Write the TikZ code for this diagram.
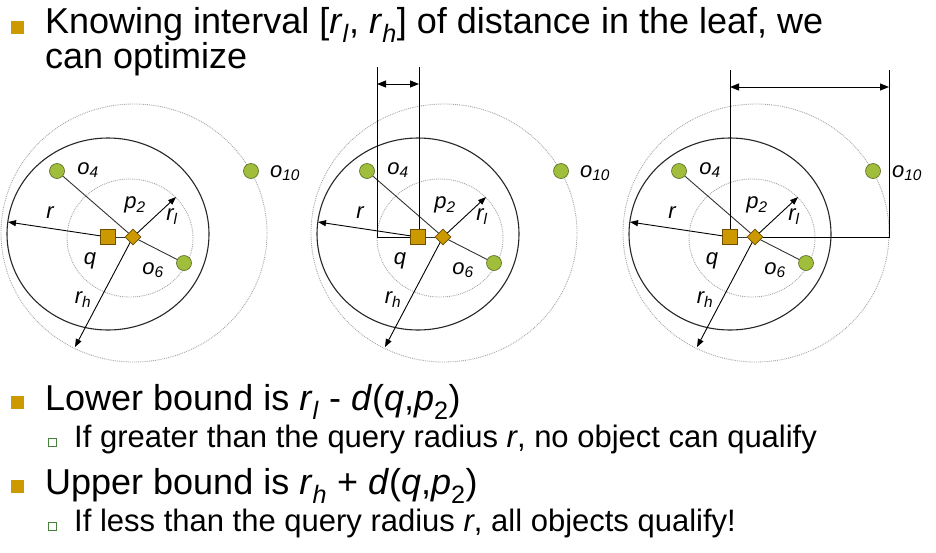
\documentclass[tikz,border=0pt]{standalone}
\usepackage{fontspec}
\setmainfont{Liberation Sans}
\usetikzlibrary{arrows.meta,shapes.geometric}
\definecolor{gold}{RGB}{204,153,0}
\definecolor{golddark}{RGB}{110,80,0}
\definecolor{leaf}{RGB}{160,190,60}
\definecolor{leafdark}{RGB}{85,105,30}
\definecolor{subgreen}{RGB}{70,130,60}
\begin{document}
\begin{tikzpicture}[x=1pt,y=-1pt,
  qbox/.style={draw=golddark, fill=gold, minimum size=15pt, inner sep=0pt, line width=0.6pt},
  pdia/.style={diamond, draw=golddark, fill=gold, minimum size=16pt, inner sep=0pt, line width=0.6pt},
  obj/.style={circle, draw=leafdark, fill=leaf, minimum size=15pt, inner sep=0pt, line width=0.6pt},
  lbl/.style={font=\fontsize{22}{26}\selectfont\itshape, inner sep=0pt},
  link/.style={line width=0.9pt, black!80},
  ray/.style={line width=0.9pt, -{Triangle[length=8pt,width=6pt]}},
  rcirc/.style={line width=1.1pt, black!85},
  dcirc/.style={line width=0.9pt, gray!70, densely dotted},
  dimline/.style={line width=1pt},
  dimarr/.style={line width=1pt, {Triangle[length=9pt,width=7pt]}-{Triangle[length=9pt,width=7pt]}},
  bigtxt/.style={font=\fontsize{36}{35}\selectfont, inner sep=0pt, anchor=base west},
  smalltxt/.style={font=\fontsize{31}{34}\selectfont, inner sep=0pt, anchor=base west},
  bul/.style={fill=gold, minimum size=13pt, inner sep=0pt},
  subbul/.style={draw=subgreen, fill=white, minimum size=8pt, inner sep=0pt, line width=1pt}
]
\useasboundingbox (0,0) rectangle (936,552);

\foreach \k/\px in {a/108, b/418, c/730} {
  \begin{scope}[shift={(\px,237)}]
    \draw[dcirc] (26,-4) ellipse [x radius=133pt, y radius=129pt];
    \draw[rcirc] (0,-3) ellipse [x radius=101pt, y radius=96pt];
    \draw[dcirc] (22,1) ellipse [x radius=63pt, y radius=59pt];
    \node[qbox] (q\k) at (0,0) {};
    \node[pdia] (p\k) at (25,0) {};
    \node[obj] (oA\k) at (-51,-66) {};
    \node[obj] (oB\k) at (76,26) {};
    \node[obj] (oC\k) at (143,-66) {};
    \coordinate (tr\k) at (-100,-15);
    \coordinate (tl\k) at (68,-40);
    \coordinate (th\k) at (-33,110);
    \draw[link] (oA\k) -- (p\k);
    \draw[link] (p\k) -- (oB\k);
    \draw[link] (q\k) -- (p\k);
    \draw[ray] (q\k) -- (tr\k);
    \draw[ray] (p\k) -- (tl\k);
    \draw[ray] (p\k) -- (th\k);
    \node[lbl] (lo4\k) at (-20,-67) {o\textsubscript{4}};
    \node[lbl] (lo10\k) at (177,-64) {o\textsubscript{10}};
    \node[lbl] (lr\k) at (-58,-24) {r};
    \node[lbl] (lp\k) at (27,-32) {p\textsubscript{2}};
    \node[lbl] (lrl\k) at (64,-20) {r\textsubscript{l}};
    \node[lbl] (lq\k) at (-18,24) {q};
    \node[lbl] (lo6\k) at (45,33) {o\textsubscript{6}};
    \node[lbl] (lrh\k) at (-25,63) {r\textsubscript{h}};
  \end{scope}
}

% panel 2 dimension
\coordinate (bL) at (377,67);
\coordinate (bR) at (419,67);
\coordinate (bLa) at (377,84);
\coordinate (bRa) at (419,84);
\draw[dimline] (bL) |- (qb.west);
\draw[dimline] (bR) -- (bR |- qb.north);
\draw[dimarr] (bLa) -- (bRa);

% panel 3 dimension
\coordinate (cL) at (730,70);
\coordinate (cR) at (889,70);
\coordinate (cLa) at (730,87);
\coordinate (cRa) at (889,87);
\draw[dimline] (cL) -- (cL |- qc.north);
\draw[dimline] (cR) |- (pc.east);
\draw[dimarr] (cLa) -- (cRa);

% text
\node[bul] (b1) at (17.5,27.5) {};
\node[bigtxt] (t1) at (45,33) {Knowing interval [\textit{r}\textsubscript{\textit{l}}, \textit{r}\textsubscript{\textit{h}}] of distance in the leaf, we};
\node[bigtxt] (t2) at (45,68) {can optimize};
\node[bul] (b2) at (17.5,402) {};
\node[bigtxt] (t3) at (45,410) {Lower bound is \textit{r}\textsubscript{\textit{l}} - \textit{d}(\textit{q},\textit{p}\textsubscript{2})};
\node[subbul] (s1) at (52,442) {};
\node[smalltxt] (t4) at (74,447) {If greater than the query radius \textit{r}, no object can qualify};
\node[bul] (b3) at (17.5,486) {};
\node[bigtxt] (t5) at (45,494) {Upper bound is \textit{r}\textsubscript{\textit{h}} + \textit{d}(\textit{q},\textit{p}\textsubscript{2})};
\node[subbul] (s2) at (52,526) {};
\node[smalltxt] (t6) at (74,531) {If less than the query radius \textit{r}, all objects qualify!};
\end{tikzpicture}
\end{document}
